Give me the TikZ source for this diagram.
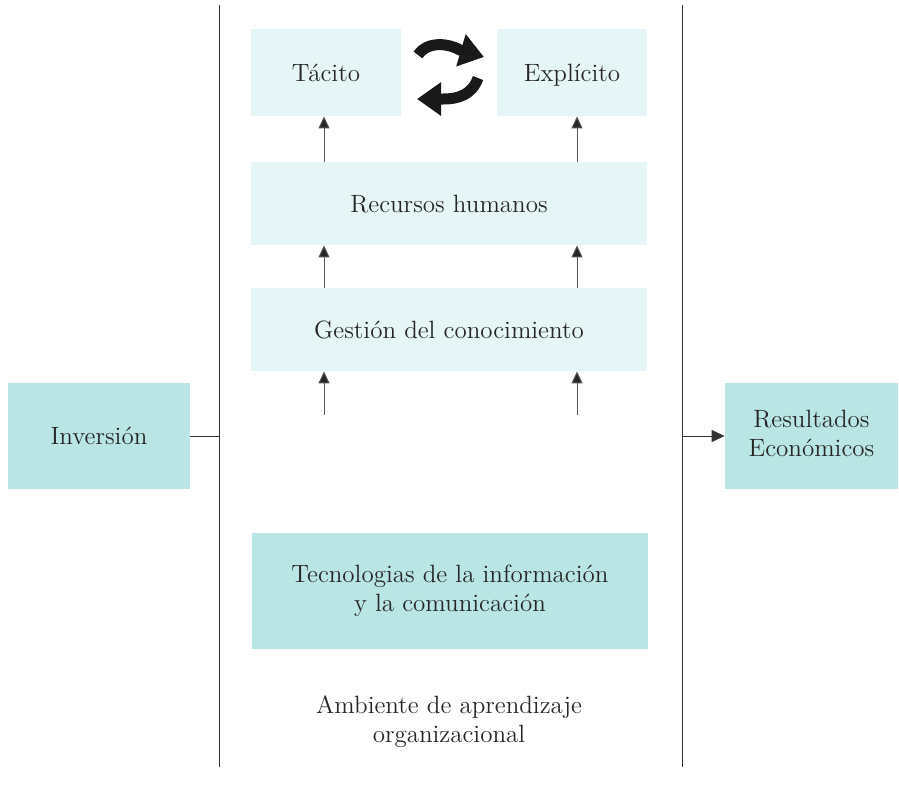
\documentclass[tikz,border=0pt]{standalone}
\usepackage{tikz}
\usetikzlibrary{positioning,arrows.meta}
\definecolor{boxlight}{HTML}{E6F6F6}
\definecolor{boxdark}{HTML}{B9E5E4}
\definecolor{linegray}{HTML}{555555}

\begin{document}
\begin{tikzpicture}[x=0.5pt,y=-0.5pt,
    every node/.style={font=\fontsize{12.5}{14.5}\selectfont, align=center, inner sep=0pt, text=black!85},
    oneline/.style={text height=10pt, text depth=1.5pt},
    lightbox/.style={fill=boxlight},
    darkbox/.style={fill=boxdark},
    frame/.style={draw=black!80, line width=0.5pt},
    uparrow/.style={draw=linegray, line width=0.5pt, -{Triangle[length=6pt,width=5.5pt,fill=black!85]}},
    cycarrow/.style={draw=black!90, line width=5.5pt, -{Triangle[length=12pt,width=16pt]}}]
  \useasboundingbox (0,0) rectangle (899,810);
  % ambiente
  \draw[frame] (219,5) coordinate (lt) -- (219,767) coordinate (lb);
  \draw[frame] (682,5) coordinate (rt) -- (682,767) coordinate (rb);
  \node[lightbox, oneline, minimum width=75pt, minimum height=43.5pt] (tacito) at (326,72.5) {T\'acito};
  \node[lightbox, oneline, minimum width=75pt, minimum height=43.5pt] (explicito) at (572,72.5) {Expl\'icito};
  \node[lightbox, oneline, minimum width=198pt, minimum height=41.5pt] (recursos) at (449,203.5) {Recursos humanos};
  \node[lightbox, oneline, minimum width=198pt, minimum height=41.5pt] (gestion) at (449,329.5) {Gesti\'on del conocimiento};
  \node[darkbox, minimum width=198pt, minimum height=58pt] (tic) at (450,591) {Tecnologias de la informaci\'on\\y la comunicaci\'on};
  \node (ambiente) at (449,722) {Ambiente de aprendizaje\\organizacional};
  \node[darkbox, oneline, minimum width=91pt, minimum height=53pt] (inversion) at (99,436) {Inversi\'on};
  \node[darkbox, text depth=3pt, minimum width=86.5pt, minimum height=53pt] (resultados) at (811.5,436) {Resultados\\Econ\'omicos};
  % flechas verticales
  \coordinate (ax1) at (324,415);
  \coordinate (ax2) at (577,415);
  \draw[uparrow] (recursos.north -| ax1) -- (tacito.south -| ax1);
  \draw[uparrow] (recursos.north -| ax2) -- (explicito.south -| ax2);
  \draw[uparrow] (gestion.north -| ax1) -- (recursos.south -| ax1);
  \draw[uparrow] (gestion.north -| ax2) -- (recursos.south -| ax2);
  \draw[uparrow] (ax1) -- (gestion.south -| ax1);
  \draw[uparrow] (ax2) -- (gestion.south -| ax2);
  \draw[frame] (inversion.east) -- (inversion.east -| lt);
  \draw[frame, -{Triangle[length=6.5pt,width=6pt]}] (resultados.west -| rt) -- (resultados.west);
  % ciclo tacito - explicito
  \draw[cycarrow] (418,55) .. controls (428,40) and (450,44) .. (460,50) -- (484,57);
  \draw[cycarrow] (478,78) .. controls (472,95) and (458,99) .. (443,99) -- (417,99);
\end{tikzpicture}
\end{document}
